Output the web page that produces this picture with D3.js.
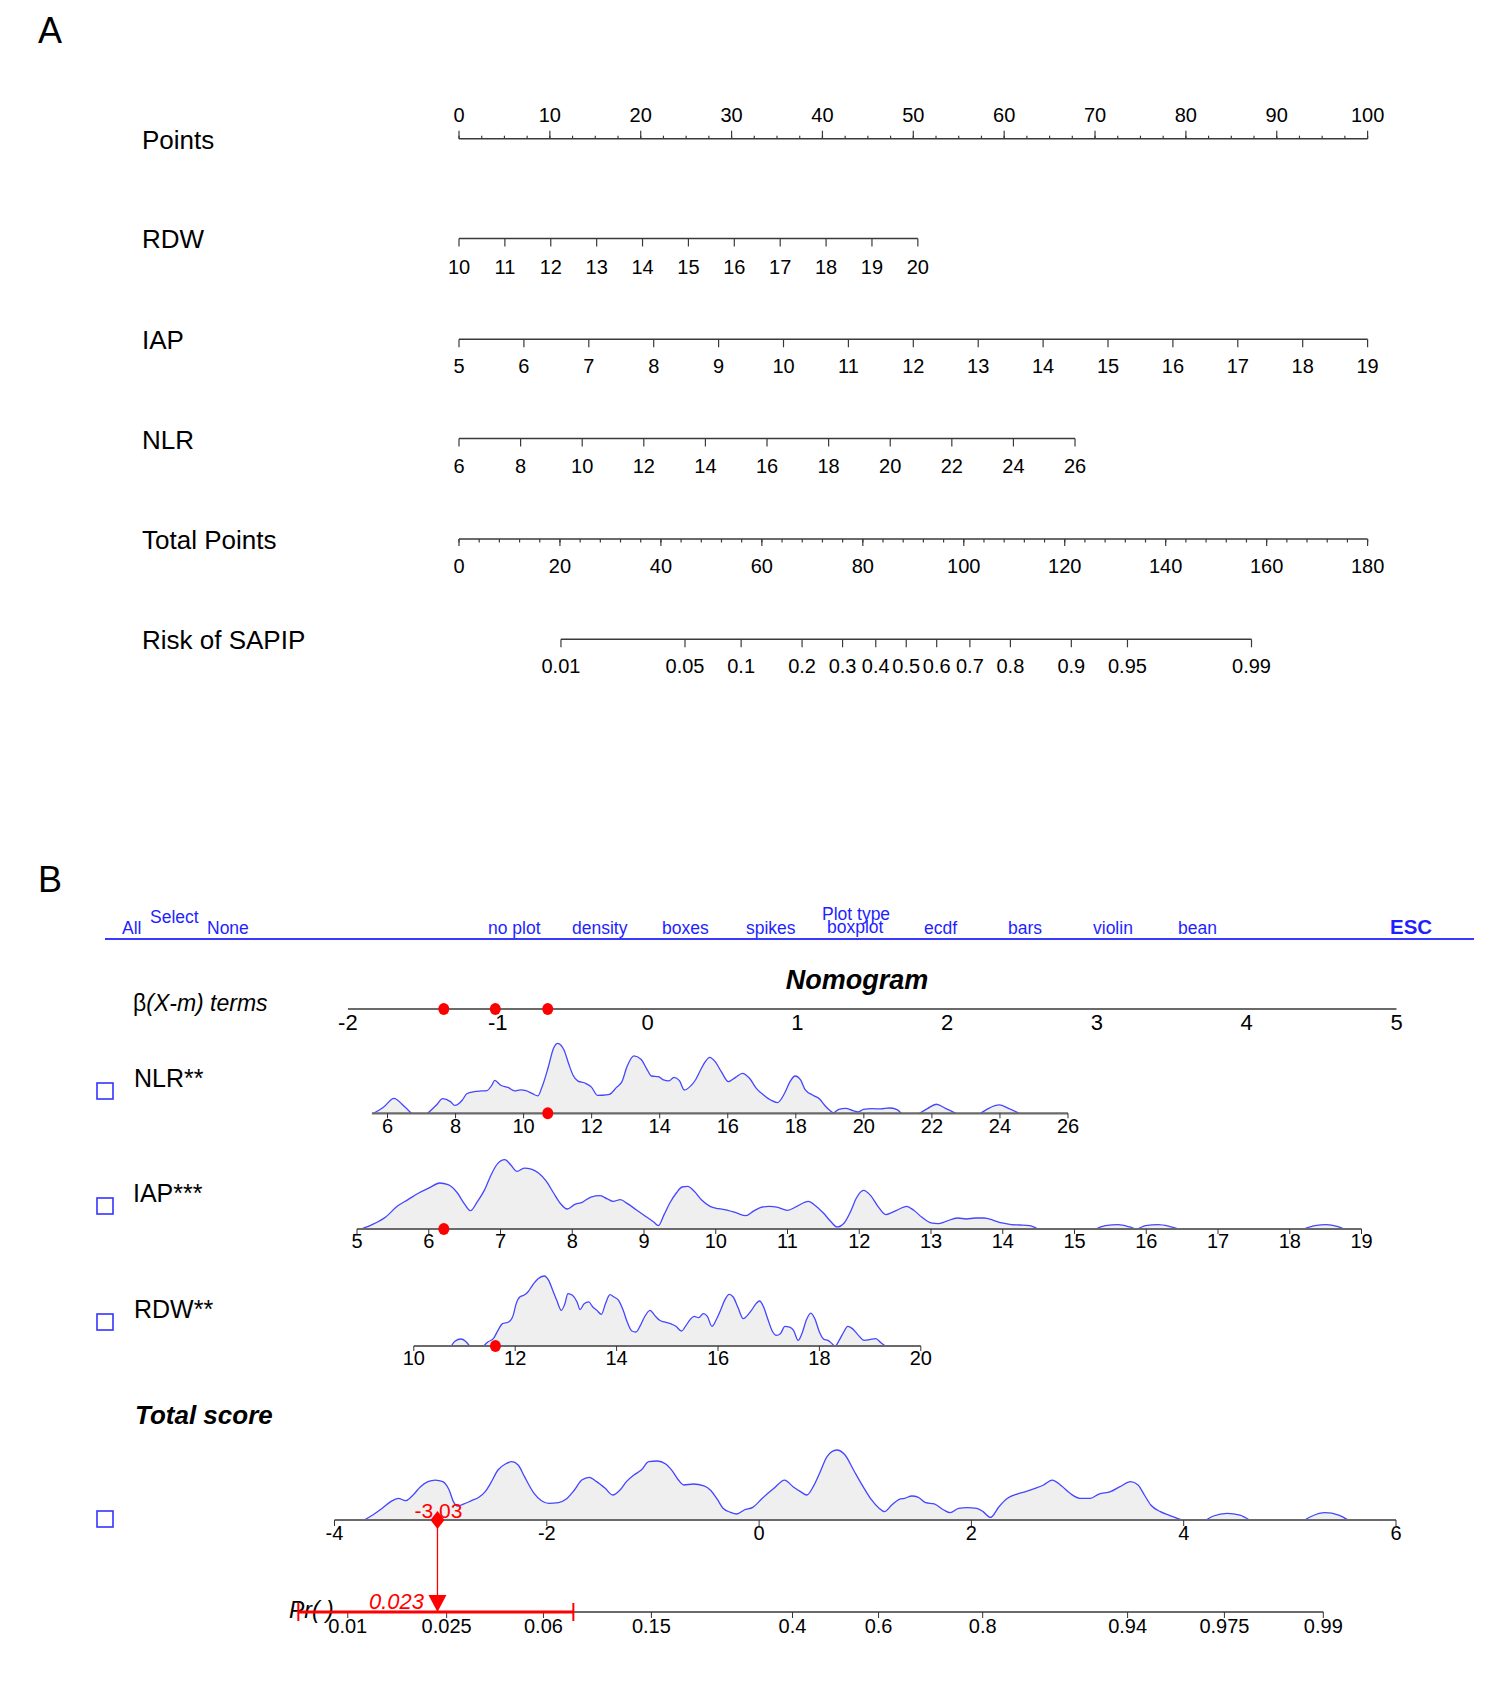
<!DOCTYPE html>
<html>
<head>
<meta charset="utf-8">
<script src="https://cdn.jsdelivr.net/npm/d3@7/dist/d3.min.js"></script>
<style>
html,body{margin:0;padding:0;background:#fff;}
svg text{font-family:"Liberation Sans",Arial,Helvetica,sans-serif;}
</style>
</head>
<body>
<svg id="chart" width="1488" height="1681"></svg>
<script>
// ================= DATA =================
// ---- Panel A (rms-style nomogram) ----
const rowLabelsA = ["Points", "RDW", "IAP", "NLR", "Total Points", "Risk of SAPIP"];
const pointsTicks = [0, 10, 20, 30, 40, 50, 60, 70, 80, 90, 100];
const rdwTicks = [10, 11, 12, 13, 14, 15, 16, 17, 18, 19, 20];
const iapTicks = [5, 6, 7, 8, 9, 10, 11, 12, 13, 14, 15, 16, 17, 18, 19];
const nlrTicks = [6, 8, 10, 12, 14, 16, 18, 20, 22, 24, 26];
const totalPointsTicks = [0, 20, 40, 60, 80, 100, 120, 140, 160, 180];
const riskTicks = [0.01, 0.05, 0.1, 0.2, 0.3, 0.4, 0.5, 0.6, 0.7, 0.8, 0.9, 0.95, 0.99];
// points contributed at the ends of each predictor range
const rdwDomain = [10, 20], rdwPoints = [0, 50.5];
const iapDomain = [5, 19], iapPoints = [0, 100];
const nlrDomain = [6, 26], nlrPoints = [0, 67.8];
// total points read at risk 0.01 and 0.99
const riskAnchorProb = [0.01, 0.99], riskAnchorPoints = [20.2, 157.0];

// ---- Panel B (regplot-style nomogram) ----
const menuItems = [
  ["All", 122, 934], ["Select", 150, 923], ["None", 207, 934],
  ["no plot", 488, 934], ["density", 572, 934], ["boxes", 662, 934],
  ["spikes", 746, 934], ["Plot type", 822, 920], ["boxplot", 827, 933],
  ["ecdf", 924, 934], ["bars", 1008, 934], ["violin", 1093, 934], ["bean", 1178, 934]
];
const betaTicks = [-2, -1, 0, 1, 2, 3, 4, 5];
const nlrTicksB = [6, 8, 10, 12, 14, 16, 18, 20, 22, 24, 26];
const iapTicksB = [5, 6, 7, 8, 9, 10, 11, 12, 13, 14, 15, 16, 17, 18, 19];
const rdwTicksB = [10, 12, 14, 16, 18, 20];
const totalScoreTicks = [-4, -2, 0, 2, 4, 6];
const probTicks = [0.01, 0.025, 0.06, 0.15, 0.4, 0.6, 0.8, 0.94, 0.975, 0.99];
const varNamesB = ["NLR**", "IAP***", "RDW**"];
const patientValues = [10.71, 6.21, 11.61];      // NLR, IAP, RDW
const betaTermValues = [-0.666, -1.36, -1.016];  // beta(X-m) for NLR, IAP, RDW
const patientTotalScore = -3.03;
const patientProb = 0.023;
const probCI = [0.0063, 0.078];
const probOffset = 0.72; // score - logit(Pr)
const nlrAxisStart = 5.54;

// density outlines (value, relative height), one array per contiguous piece
const nlrDensity = [
 [[5.59,0],[5.88,.086],[6.19,.214],[6.45,.119],[6.70,0]],
 [[7.18,0],[7.44,.119],[7.62,.21],[7.85,.167],[7.98,.112],[8.20,.19],[8.33,.28],[8.55,.31],[8.76,.319],[8.92,.324],[9.07,.405],[9.15,.47],[9.33,.40],[9.54,.37],[9.74,.319],[9.91,.335],[10.07,.324],[10.26,.28],[10.42,.25],[10.53,.36],[10.72,.65],[10.88,.929],[11.0,1],[11.19,.9],[11.33,.70],[11.45,.548],[11.60,.46],[11.80,.433],[12.0,.37],[12.17,.256],[12.32,.258],[12.52,.27],[12.73,.37],[12.89,.452],[13.04,.667],[13.24,.819],[13.45,.771],[13.61,.643],[13.76,.533],[13.96,.524],[14.11,.476],[14.27,.462],[14.42,.514],[14.58,.467],[14.72,.333],[14.89,.381],[15.05,.476],[15.20,.619],[15.34,.738],[15.47,.8],[15.63,.738],[15.81,.595],[16.02,.452],[16.23,.514],[16.43,.571],[16.64,.5],[16.84,.357],[17.05,.262],[17.26,.19],[17.46,.152],[17.67,.286],[17.83,.452],[17.98,.533],[18.14,.476],[18.28,.333],[18.49,.262],[18.70,.205],[18.84,.119],[18.96,.057],[19.11,0]],
 [[19.11,0],[19.27,.057],[19.46,.071],[19.68,.038],[19.83,.019],[19.99,.057],[20.24,.067],[20.49,.062],[20.75,.076],[20.96,.057],[21.10,0]],
 [[21.64,0],[21.88,.071],[22.13,.129],[22.40,.071],[22.71,0]],
 [[23.43,0],[23.67,.071],[23.98,.119],[24.25,.071],[24.56,0]]
];
const iapDensity = [
 [[5.06,0],[5.21,.062],[5.40,.171],[5.56,.324],[5.71,.419],[5.86,.514],[6.02,.595],[6.15,.657],[6.27,.633],[6.40,.514],[6.49,.371],[6.58,.262],[6.68,.395],[6.78,.562],[6.87,.776],[6.96,.933],[7.06,.99],[7.14,.919],[7.23,.824],[7.33,.871],[7.43,.857],[7.53,.8],[7.64,.681],[7.74,.514],[7.83,.371],[7.93,.286],[8.03,.348],[8.14,.381],[8.26,.457],[8.39,.476],[8.49,.429],[8.57,.395],[8.67,.419],[8.77,.362],[8.89,.276],[9.01,.19],[9.14,.095],[9.20,.048],[9.28,.205],[9.36,.371],[9.45,.514],[9.53,.6],[9.61,.61],[9.70,.538],[9.80,.419],[9.92,.324],[10.04,.29],[10.17,.267],[10.29,.229],[10.42,.19],[10.52,.252],[10.63,.31],[10.75,.324],[10.85,.314],[11.00,.267],[11.13,.324],[11.29,.395],[11.39,.333],[11.50,.229],[11.60,.11],[11.69,.029],[11.79,.086],[11.88,.252],[11.96,.443],[12.06,.552],[12.16,.476],[12.26,.324],[12.37,.205],[12.46,.238],[12.56,.286],[12.66,.324],[12.76,.267],[12.87,.171],[13.00,.086],[13.10,.076],[13.21,.11],[13.37,.157],[13.49,.143],[13.62,.157],[13.74,.157],[13.87,.124],[13.99,.086],[14.12,.062],[14.24,.057],[14.37,.048],[14.49,0]],
 [[15.30,0],[15.43,.048],[15.61,.062],[15.77,.029],[15.86,0],[15.99,.048],[16.17,.062],[16.32,.038],[16.45,0]],
 [[18.19,0],[18.35,.048],[18.51,.062],[18.66,.038],[18.76,0]]
];
const rdwDensity = [
 [[10.74,0],[10.81,.067],[10.93,.1],[11.02,.067],[11.10,0]],
 [[11.38,0],[11.46,.057],[11.57,.105],[11.66,.224],[11.75,.319],[11.87,.343],[11.96,.438],[12.02,.605],[12.09,.7],[12.17,.724],[12.25,.771],[12.34,.867],[12.45,.962],[12.57,1],[12.66,.938],[12.74,.795],[12.82,.652],[12.91,.51],[12.98,.605],[13.04,.748],[13.13,.724],[13.22,.629],[13.28,.519],[13.36,.605],[13.45,.629],[13.53,.557],[13.61,.51],[13.70,.452],[13.78,.605],[13.87,.733],[13.95,.7],[14.04,.652],[14.13,.51],[14.21,.343],[14.30,.214],[14.38,.2],[14.47,.295],[14.55,.414],[14.66,.51],[14.75,.438],[14.85,.367],[14.94,.343],[15.06,.319],[15.17,.281],[15.28,.214],[15.37,.295],[15.45,.376],[15.53,.424],[15.62,.405],[15.71,.462],[15.79,.424],[15.88,.281],[15.96,.367],[16.05,.51],[16.13,.652],[16.22,.738],[16.30,.7],[16.39,.557],[16.50,.39],[16.58,.438],[16.66,.51],[16.75,.605],[16.82,.643],[16.90,.557],[16.98,.39],[17.07,.214],[17.15,.152],[17.23,.176],[17.32,.281],[17.41,.271],[17.49,.224],[17.58,.081],[17.66,.186],[17.74,.367],[17.83,.471],[17.91,.39],[18.00,.2],[18.09,.095],[18.17,.081],[18.25,.033],[18.31,0],[18.39,.081],[18.48,.2],[18.56,.281],[18.65,.248],[18.77,.152],[18.88,.081],[18.99,.09],[19.11,.105],[19.22,.043],[19.30,0]]
];
const totalDensity = [
 [[-3.72,0],[-3.64,.071],[-3.55,.167],[-3.47,.262],[-3.40,.31],[-3.33,.276],[-3.26,.357],[-3.19,.476],[-3.12,.548],[-3.05,.571],[-2.98,.548],[-2.92,.429],[-2.88,.262],[-2.84,.2],[-2.78,.229],[-2.71,.276],[-2.64,.324],[-2.58,.405],[-2.53,.524],[-2.46,.714],[-2.39,.8],[-2.33,.833],[-2.27,.786],[-2.21,.619],[-2.12,.381],[-2.05,.276],[-1.98,.238],[-1.89,.248],[-1.82,.295],[-1.74,.429],[-1.67,.571],[-1.60,.61],[-1.53,.548],[-1.45,.452],[-1.38,.357],[-1.31,.429],[-1.25,.548],[-1.18,.643],[-1.11,.714],[-1.04,.833],[-0.96,.843],[-0.88,.8],[-0.82,.705],[-0.76,.571],[-0.71,.5],[-0.62,.514],[-0.52,.486],[-0.46,.429],[-0.39,.286],[-0.34,.167],[-0.27,.11],[-0.21,.086],[-0.14,.143],[-0.06,.181],[0.03,.31],[0.14,.452],[0.24,.571],[0.32,.476],[0.39,.405],[0.45,.357],[0.51,.476],[0.57,.667],[0.64,.905],[0.73,1],[0.81,.929],[0.89,.714],[0.98,.476],[1.06,.286],[1.13,.167],[1.18,.119],[1.25,.214],[1.32,.295],[1.37,.31],[1.44,.343],[1.50,.324],[1.57,.248],[1.65,.229],[1.74,.143],[1.80,.105],[1.88,.167],[1.96,.176],[2.05,.167],[2.11,.119],[2.18,.038],[2.26,.19],[2.34,.31],[2.43,.371],[2.51,.405],[2.60,.452],[2.68,.5],[2.76,.571],[2.85,.486],[2.93,.381],[3.02,.31],[3.12,.31],[3.20,.371],[3.31,.405],[3.40,.476],[3.50,.548],[3.57,.5],[3.63,.357],[3.69,.214],[3.78,.119],[3.86,.071],[3.94,.024],[3.99,0]],
 [[4.21,0],[4.28,.057],[4.41,.095],[4.53,.071],[4.62,0]],
 [[5.14,0],[5.21,.057],[5.33,.105],[5.46,.071],[5.55,0]]
];

// ================= DRAWING =================
const svg = d3.select("#chart");
const logit = p => Math.log(p / (1 - p));
const fmt0 = d3.format("~g");
const fmt = v => fmt0(v).replace("\u2212", "-");

function txt(g, x, y, s, size, opts = {}) {
  const t = g.append("text").attr("x", x).attr("y", y).attr("font-size", size).text(s);
  if (opts.anchor) t.attr("text-anchor", opts.anchor);
  if (opts.fill) t.attr("fill", opts.fill);
  if (opts.weight) t.attr("font-weight", opts.weight);
  if (opts.style) t.attr("font-style", opts.style);
  return t;
}

// ---------- Panel A ----------
const gA = svg.append("g");
txt(gA, 38, 43, "A", 36);

const xPts = d3.scaleLinear().domain([0, 100]).range([459, 1367.6]);
const xTP = d3.scaleLinear().domain([0, 180]).range([459, 1367.6]);
const rdwToPts = d3.scaleLinear().domain(rdwDomain).range(rdwPoints);
const iapToPts = d3.scaleLinear().domain(iapDomain).range(iapPoints);
const nlrToPts = d3.scaleLinear().domain(nlrDomain).range(nlrPoints);
const riskToTP = d3.scaleLinear().domain(riskAnchorProb.map(logit)).range(riskAnchorPoints);

const rowBaseA = [149, 248, 349, 448.5, 549, 649];
rowLabelsA.forEach((l, i) => txt(gA, 142, rowBaseA[i], l, 26));

const AX = "#3a3a3a";
function axisLineA(x0, x1, y) {
  gA.append("line").attr("x1", x0).attr("x2", x1).attr("y1", y).attr("y2", y)
    .attr("stroke", AX).attr("stroke-width", 1.5);
}
function ticksA(xs, y, len) {
  gA.selectAll(null).data(xs).enter().append("line")
    .attr("x1", d => d).attr("x2", d => d).attr("y1", y).attr("y2", y + len)
    .attr("stroke", AX).attr("stroke-width", 1.2);
}
function labelsA(vals, xf, y) {
  gA.selectAll(null).data(vals).enter().append("text")
    .attr("x", d => xf(d)).attr("y", y).attr("text-anchor", "middle")
    .attr("font-size", 20).text(d => fmt(d));
}

// Points
axisLineA(xPts(0), xPts(100), 138.7);
ticksA(d3.range(0, 100.01, 2.5).map(xPts), 138.7, -3);
ticksA(pointsTicks.map(xPts), 138.7, -8);
labelsA(pointsTicks, xPts, 122);

// RDW
const rdwX = v => xPts(rdwToPts(v));
axisLineA(rdwX(10), rdwX(20), 238.5);
ticksA(rdwTicks.map(rdwX), 238.5, 8);
labelsA(rdwTicks, rdwX, 274);

// IAP
const iapX = v => xPts(iapToPts(v));
axisLineA(iapX(5), iapX(19), 339.3);
ticksA(iapTicks.map(iapX), 339.3, 8);
labelsA(iapTicks, iapX, 373);

// NLR
const nlrX = v => xPts(nlrToPts(v));
axisLineA(nlrX(6), nlrX(26), 438.5);
ticksA(nlrTicks.map(nlrX), 438.5, 8);
labelsA(nlrTicks, nlrX, 473);

// Total points
axisLineA(xTP(0), xTP(180), 539);
ticksA(d3.range(0, 180.01, 4).map(xTP), 539, 3.5);
ticksA(totalPointsTicks.map(xTP), 539, 7);
labelsA(totalPointsTicks, xTP, 573);

// Risk
const riskX = p => xTP(riskToTP(logit(p)));
axisLineA(riskX(0.01), riskX(0.99), 639.3);
ticksA(riskTicks.map(riskX), 639.3, 8);
labelsA(riskTicks, riskX, 673);

// ---------- Panel B ----------
const gB = svg.append("g");
txt(gB, 38, 892, "B", 36);

const BLUE = "#1f1fff";
menuItems.forEach(m => txt(gB, m[1], m[2], m[0], 17.5, { fill: BLUE }));
txt(gB, 1390, 934, "ESC", 20.5, { fill: BLUE, weight: "bold" });
gB.append("line").attr("x1", 105).attr("x2", 1474).attr("y1", 939).attr("y2", 939)
  .attr("stroke", "#3a3aff").attr("stroke-width", 2);

txt(gB, 857, 989, "Nomogram", 27, { anchor: "middle", weight: "bold", style: "italic" });
const bt = gB.append("text").attr("x", 133).attr("y", 1011).attr("font-size", 23).attr("font-style", "italic");
bt.append("tspan").attr("font-style", "normal").text("\u03B2");
bt.append("tspan").text("(X-m) terms");

const xBeta = d3.scaleLinear().domain([-2, 5]).range([347.9, 1396.5]);
const xNLR = d3.scaleLinear().domain([6, 26]).range([387.5, 1068]);
const xIAP = d3.scaleLinear().domain([5, 19]).range([357, 1361.5]);
const xRDW = d3.scaleLinear().domain([10, 20]).range([413.8, 920.8]);
const xTot = d3.scaleLinear().domain([-4, 6]).range([334.5, 1396]);
const hScale = d3.scaleLinear().domain([0, 1]).range([0, 70]);
const probX = p => xTot(logit(p) + probOffset);

const GR = "#6a6a6a";
function axisB(x0, x1, y) {
  gB.append("line").attr("x1", x0).attr("x2", x1).attr("y1", y).attr("y2", y)
    .attr("stroke", GR).attr("stroke-width", 2.2);
}
function ticksB(xs, y, len) {
  gB.selectAll(null).data(xs).enter().append("line")
    .attr("x1", d => d).attr("x2", d => d).attr("y1", y).attr("y2", y + len)
    .attr("stroke", "#333").attr("stroke-width", 1);
}
function labelsB(vals, xf, y, size) {
  gB.selectAll(null).data(vals).enter().append("text")
    .attr("x", d => xf(d)).attr("y", y).attr("text-anchor", "middle")
    .attr("font-size", size).text(d => fmt(d));
}
function density(pieces, xf, yBase) {
  const area = d3.area().curve(d3.curveMonotoneX)
    .x(d => xf(d[0])).y0(yBase).y1(d => yBase - hScale(d[1]));
  const line = d3.line().curve(d3.curveMonotoneX)
    .x(d => xf(d[0])).y(d => yBase - hScale(d[1]));
  pieces.forEach(pc => {
    gB.append("path").attr("d", area(pc)).attr("fill", "#efefef");
    gB.append("path").attr("d", line(pc)).attr("fill", "none")
      .attr("stroke", "#4646ff").attr("stroke-width", 1.3);
  });
}
function checkbox(y) {
  gB.append("rect").attr("x", 97).attr("y", y).attr("width", 16).attr("height", 16)
    .attr("fill", "none").attr("stroke", "#3535ff").attr("stroke-width", 1.6);
}
function redDot(x, y) {
  gB.append("ellipse").attr("cx", x).attr("cy", y).attr("rx", 5.5).attr("ry", 6)
    .attr("fill", "#ff0000");
}

// beta axis
axisB(xBeta(-2), xBeta(5), 1009);
labelsB(betaTicks, xBeta, 1030, 22);
betaTermValues.forEach(b => redDot(xBeta(b), 1009));

// NLR
const yNLR = 1113.3;
density(nlrDensity, xNLR, yNLR);
axisB(xNLR(nlrAxisStart), xNLR(26), yNLR);
ticksB(nlrTicksB.map(xNLR), yNLR, 5);
labelsB(nlrTicksB, xNLR, 1133, 20);
txt(gB, 134, 1087, varNamesB[0], 25);
checkbox(1083);
redDot(xNLR(patientValues[0]), yNLR);

// IAP
const yIAP = 1229;
density(iapDensity, xIAP, yIAP);
axisB(xIAP(5), xIAP(19), yIAP);
ticksB(iapTicksB.map(xIAP), yIAP, 5);
labelsB(iapTicksB, xIAP, 1248, 20);
txt(gB, 133, 1202, varNamesB[1], 25);
checkbox(1198);
redDot(xIAP(patientValues[1]), yIAP);

// RDW
const yRDW = 1346;
density(rdwDensity, xRDW, yRDW);
axisB(xRDW(10), xRDW(20), yRDW);
ticksB(rdwTicksB.map(xRDW), yRDW, 5);
labelsB(rdwTicksB, xRDW, 1365, 20);
txt(gB, 134, 1318, varNamesB[2], 25);
checkbox(1314);
redDot(xRDW(patientValues[2]), yRDW);

// Total score
txt(gB, 135, 1424, "Total score", 26, { weight: "bold", style: "italic" });
const yTot = 1520;
density(totalDensity, xTot, yTot);
axisB(xTot(-4), xTot(6), yTot);
ticksB(totalScoreTicks.map(xTot), yTot, 6);
labelsB(totalScoreTicks, xTot, 1540, 20);
checkbox(1511);

// Probability axis
const yPr = 1612;
axisB(probX(probCI[0]), probX(0.99), yPr);
ticksB(probTicks.map(probX), yPr, 6);
labelsB(probTicks, probX, 1633, 20);
txt(gB, 289, 1618, "Pr(   )", 23, { style: "italic" });

// red CI + arrow + marker
const RED = "#ff0000";
const xs = xTot(patientTotalScore);
gB.append("line").attr("x1", probX(probCI[0])).attr("x2", probX(probCI[1]))
  .attr("y1", yPr).attr("y2", yPr).attr("stroke", RED).attr("stroke-width", 3);
[probCI[0], probCI[1]].forEach(p => {
  gB.append("line").attr("x1", probX(p)).attr("x2", probX(p))
    .attr("y1", yPr - 9).attr("y2", yPr + 9).attr("stroke", RED).attr("stroke-width", 2);
});
gB.append("line").attr("x1", xs).attr("x2", xs).attr("y1", yTot).attr("y2", yPr - 14)
  .attr("stroke", RED).attr("stroke-width", 1.3);
gB.append("path")
  .attr("d", `M${xs - 9},${yPr - 17} L${xs + 9},${yPr - 17} L${xs},${yPr} Z`)
  .attr("fill", RED);
gB.append("path")
  .attr("d", `M${xs},${yTot - 9} L${xs + 7},${yTot} L${xs},${yTot + 9} L${xs - 7},${yTot} Z`)
  .attr("fill", RED);
txt(gB, xs + 1, 1518, fmt(patientTotalScore), 21, { anchor: "middle", fill: RED });
txt(gB, 424, 1609, String(patientProb), 22, { anchor: "end", fill: RED, style: "italic" });
</script>
</body>
</html>
